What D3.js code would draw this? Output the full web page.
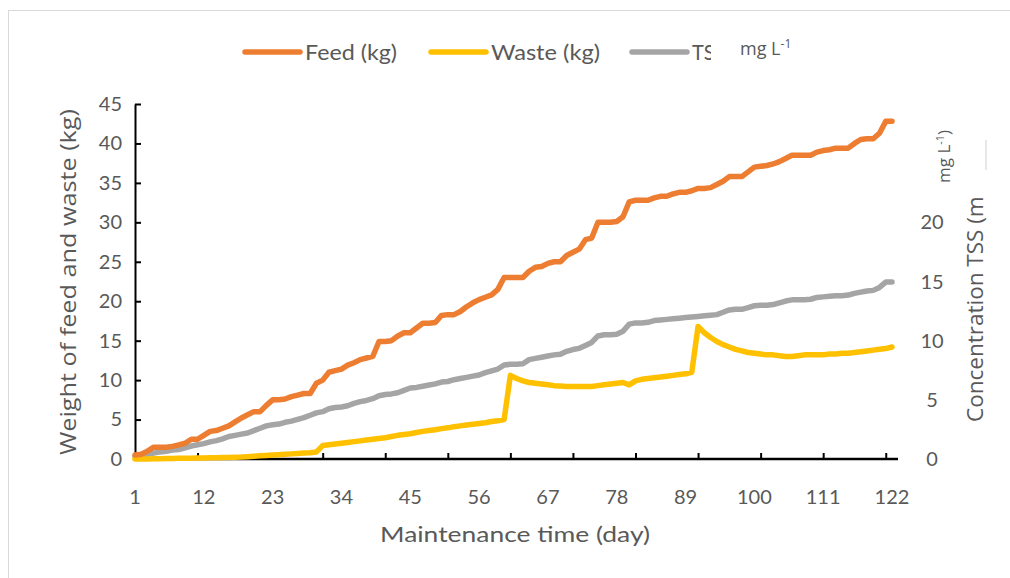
<!DOCTYPE html>
<html><head><meta charset="utf-8">
<script src="https://cdn.jsdelivr.net/npm/d3@7"></script>
<style>
body{margin:0;background:#fff;}
svg{display:block;}
text{fill:#595959;}
</style></head>
<body>
<svg id="c" width="1010" height="578"></svg>
<script>
const days = d3.range(1, 123);
const feedKg = [0.5,0.6,1.0,1.5,1.5,1.5,1.6,1.8,2.0,2.5,2.5,3.0,3.5,3.6,3.9,4.2,4.7,5.2,5.6,6.0,
6.0,6.8,7.5,7.5,7.6,7.9,8.1,8.3,8.3,9.6,10.0,11.0,11.2,11.4,11.9,12.2,12.6,12.8,13.0,14.9,
14.9,15.0,15.6,16.0,16.0,16.6,17.2,17.2,17.3,18.2,18.3,18.3,18.7,19.3,19.8,20.2,20.5,20.8,21.5,23.0,
23.0,23.0,23.0,23.8,24.3,24.4,24.8,25.0,25.0,25.8,26.2,26.6,27.8,28.0,30.0,30.0,30.0,30.1,30.7,32.6,
32.8,32.8,32.8,33.1,33.3,33.3,33.6,33.8,33.8,34.0,34.3,34.3,34.4,34.8,35.2,35.8,35.8,35.8,36.4,37.0,
37.1,37.2,37.4,37.7,38.1,38.5,38.5,38.5,38.5,38.9,39.1,39.2,39.4,39.4,39.4,40.0,40.5,40.6,40.6,41.3,
42.8,42.8];
const wasteKg = [0,0,0,0.02,0.04,0.05,0.07,0.08,0.1,0.1,0.12,0.13,0.15,0.16,0.18,0.2,0.22,0.25,0.3,0.35,
0.4,0.45,0.5,0.55,0.6,0.65,0.7,0.75,0.8,0.9,1.7,1.8,1.9,2.0,2.1,2.2,2.3,2.4,2.5,2.6,
2.7,2.85,3.0,3.1,3.2,3.35,3.5,3.6,3.7,3.85,3.95,4.1,4.2,4.3,4.4,4.5,4.6,4.75,4.85,5.0,
10.6,10.2,9.9,9.7,9.6,9.5,9.4,9.3,9.25,9.2,9.2,9.2,9.2,9.2,9.3,9.4,9.5,9.6,9.7,9.4,
9.9,10.1,10.2,10.3,10.4,10.5,10.6,10.7,10.8,11.0,16.8,16.0,15.4,14.9,14.5,14.2,13.9,13.7,13.5,13.4,
13.3,13.2,13.2,13.1,13.0,13.0,13.1,13.2,13.2,13.2,13.2,13.3,13.3,13.4,13.4,13.5,13.6,13.7,13.8,13.9,
14.0,14.2];
const tssMgL = [0.2,0.3,0.4,0.5,0.6,0.65,0.75,0.8,0.95,1.1,1.2,1.3,1.45,1.55,1.7,1.9,2.0,2.1,2.2,2.4,
2.6,2.8,2.9,2.95,3.1,3.2,3.35,3.5,3.7,3.9,4.0,4.25,4.35,4.4,4.5,4.7,4.85,4.95,5.1,5.35,
5.45,5.5,5.6,5.8,6.0,6.05,6.15,6.25,6.35,6.5,6.55,6.7,6.8,6.9,7.0,7.1,7.3,7.45,7.6,7.95,
8.0,8.0,8.05,8.4,8.5,8.6,8.7,8.8,8.85,9.1,9.25,9.35,9.6,9.85,10.4,10.5,10.5,10.55,10.8,11.4,
11.5,11.5,11.55,11.7,11.75,11.8,11.85,11.9,11.95,12.0,12.05,12.1,12.15,12.2,12.4,12.6,12.65,12.65,12.8,12.95,
13.0,13.0,13.05,13.2,13.35,13.45,13.45,13.45,13.5,13.65,13.7,13.75,13.8,13.8,13.85,14.0,14.1,14.2,14.25,14.5,
14.95,14.95];
const xLabelDays = [1,12,23,34,45,56,67,78,89,100,111,122];
const xTickDays = [11,21,31,41,51,61,71,81,91,101,111,121];
const leftTicks = [0,5,10,15,20,25,30,35,40,45];
const rightTicks = [0,5,10,15,20];
const seriesNames = ["Feed (kg)", "Waste (kg)", "TSS ("];
const colors = ["#ED7D31", "#FFC000", "#A5A5A5"];

const svg = d3.select("#c");
svg.append("rect").attr("x",8.5).attr("y",10.5).attr("width",1010).attr("height",580)
  .attr("fill","#fff").attr("stroke","#d9d9d9").attr("stroke-width",1);

const x = d3.scaleLinear().domain([1,122]).range([135,892]);
const yL = d3.scaleLinear().domain([0,45]).range([459,104]);
const yR = d3.scaleLinear().domain([0,30]).range([459,104]);

const tickFont = "Lato, 'Open Sans', sans-serif";
const wideFont = "'Open Sans', sans-serif";

// left axis
const gL = svg.append("g").attr("transform","translate(135,0)")
  .call(d3.axisLeft(yL).tickValues(leftTicks).tickSize(-6).tickSizeOuter(0).tickPadding(13));
gL.select(".domain").attr("stroke","#000").attr("stroke-width",2);
gL.selectAll(".tick line").attr("stroke","#000").attr("stroke-width",2);
gL.selectAll(".tick text").attr("font-size",20).attr("font-family",tickFont).attr("fill","#595959");

// bottom axis
const gB = svg.append("g").attr("transform","translate(0,459)")
  .call(d3.axisBottom(x).tickValues(xTickDays).tickSize(-6).tickSizeOuter(0).tickFormat(""));
gB.select(".domain").attr("d","M134,0H898").attr("stroke","#000").attr("stroke-width",2.5);
gB.selectAll(".tick line").attr("stroke","#000").attr("stroke-width",2);

svg.append("g").selectAll("text").data(xLabelDays).join("text")
  .attr("x",d=>x(d)).attr("y",504).attr("text-anchor","middle")
  .attr("font-size",20).attr("font-family",tickFont).text(d=>d);

// right axis labels
svg.append("g").selectAll("text").data(rightTicks).join("text")
  .attr("x",932).attr("y",d=>yR(d)+7).attr("text-anchor","middle")
  .attr("font-size",20).attr("font-family",tickFont).text(d=>d);

// lines
const lineL = d3.line().x((d,i)=>x(days[i])).y(d=>yL(d));
const lineR = d3.line().x((d,i)=>x(days[i])).y(d=>yR(d));
const lineG = svg.append("g").attr("fill","none").attr("stroke-width",5.5)
  .attr("stroke-linejoin","round").attr("stroke-linecap","round");
lineG.append("path").attr("d",lineR(tssMgL)).attr("stroke",colors[2]);
lineG.append("path").attr("d",lineL(wasteKg)).attr("stroke",colors[1]);
lineG.append("path").attr("d",lineL(feedKg)).attr("stroke",colors[0]);

// axis titles
svg.append("text").attr("transform","translate(76,282) rotate(-90)")
  .attr("text-anchor","middle").attr("font-size",21).attr("font-family",wideFont)
  .attr("textLength",346).attr("lengthAdjust","spacingAndGlyphs")
  .text("Weight of feed  and waste (kg)");
svg.append("text").attr("x",515).attr("y",542).attr("text-anchor","middle")
  .attr("font-size",22).attr("font-family",tickFont)
  .attr("textLength",270).attr("lengthAdjust","spacingAndGlyphs")
  .text("Maintenance time (day)");

// right title
svg.append("text").attr("transform","translate(983,422) rotate(-90)")
  .attr("text-anchor","start").attr("font-size",22.5).attr("font-family",wideFont)
  .text("Concentration TSS (mg L");
svg.append("rect").attr("x",955).attr("y",110).attr("width",45).attr("height",88).attr("fill","#fff");
svg.append("line").attr("x1",986).attr("x2",986).attr("y1",140).attr("y2",170)
  .attr("stroke","#d0d0d0").attr("stroke-width",1);
svg.append("text").attr("transform","translate(950,183) rotate(-90)")
  .attr("text-anchor","start").attr("font-size",17).attr("font-family",wideFont)
  .html("mg L<tspan dy='-6' font-size='11'>-1</tspan><tspan dy='6'>)</tspan>");

// legend
const legX = [243, 429, 630];
const legW = [92, 109, 44];
const leg = svg.append("g");
seriesNames.forEach((n,i)=>{
  leg.append("line").attr("x1",legX[i]+2).attr("x2",legX[i]+57).attr("y1",52).attr("y2",52)
    .attr("stroke",colors[i]).attr("stroke-width",5.5).attr("stroke-linecap","round");
  leg.append("text").attr("x",legX[i]+62).attr("y",60).attr("font-size",21)
    .attr("font-family",tickFont).attr("textLength",legW[i]).attr("lengthAdjust","spacingAndGlyphs")
    .text(n);
});
svg.append("rect").attr("x",711).attr("y",30).attr("width",27).attr("height",40).attr("fill","#fff");
svg.append("text").attr("x",740).attr("y",55).attr("font-size",18).attr("font-family",wideFont)
  .html("mg L<tspan dy='-7' font-size='12'>-1</tspan>");
</script>
</body></html>
